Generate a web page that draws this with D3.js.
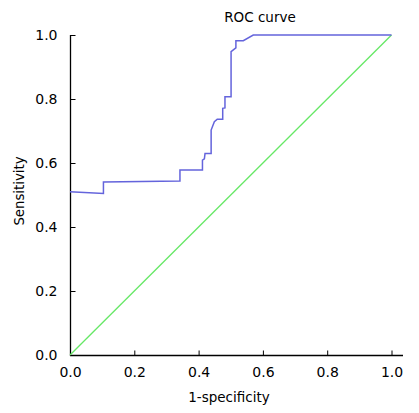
<!DOCTYPE html>
<html><head><meta charset="utf-8">
<script src="https://cdn.jsdelivr.net/npm/d3@7"></script>
<style>body{margin:0;background:#fff;} svg{display:block;}</style>
</head><body>
<svg id="c" width="419" height="413"></svg>
<script>
const fpr = [0, 0.104, 0.104, 0.342, 0.342, 0.412, 0.412, 0.418, 0.420, 0.439, 0.439, 0.449, 0.458, 0.475, 0.475, 0.482, 0.482, 0.501, 0.501, 0.516, 0.516, 0.539, 0.570, 1.0];
const tpr = [0.510, 0.505, 0.541, 0.544, 0.578, 0.578, 0.609, 0.613, 0.630, 0.630, 0.703, 0.729, 0.737, 0.737, 0.771, 0.772, 0.807, 0.807, 0.948, 0.960, 0.982, 0.982, 1.0, 1.0];
const diagX = [0, 1];
const diagY = [0, 1];
const ticks = [0, 0.2, 0.4, 0.6, 0.8, 1.0];
const title = "ROC curve", xLabel = "1-specificity", yLabel = "Sensitivity";

const svg = d3.select("#c");
const font = "DejaVu Sans, sans-serif";
const x = d3.scaleLinear().domain([0, 1]).range([70, 391.5]);
const y = d3.scaleLinear().domain([0, 1]).range([355, 35]);

// axes lines
svg.append("line").attr("x1", 70).attr("x2", 403).attr("y1", 355.5).attr("y2", 355.5).attr("stroke", "#000").attr("stroke-width", 1.3);
svg.append("line").attr("x1", 70.5).attr("x2", 70.5).attr("y1", 35).attr("y2", 356).attr("stroke", "#000").attr("stroke-width", 1.3);

const xa = svg.append("g").attr("transform", "translate(0,355.5)")
  .call(d3.axisBottom(x).tickValues(ticks).tickFormat(d3.format(".1f")).tickSizeInner(-5).tickSizeOuter(0).tickPadding(12));
xa.select(".domain").remove();
xa.selectAll("text").attr("font-family", font).attr("font-size", 14).attr("fill", "#000");
xa.selectAll("line").attr("stroke", "#000");

const ya = svg.append("g").attr("transform", "translate(70.5,0)")
  .call(d3.axisLeft(y).tickValues(ticks).tickFormat(d3.format(".1f")).tickSizeInner(-5).tickSizeOuter(0).tickPadding(13));
ya.select(".domain").remove();
ya.selectAll("text").attr("font-family", font).attr("font-size", 14).attr("fill", "#000");
ya.selectAll("line").attr("stroke", "#000");

// diagonal
svg.append("path")
  .attr("d", d3.line().x((d, i) => x(diagX[i])).y((d, i) => y(diagY[i]))(diagX))
  .attr("fill", "none").attr("stroke", "#66e866").attr("stroke-width", 1.3);

// ROC
svg.append("path")
  .attr("d", d3.line().x((d, i) => x(fpr[i])).y((d, i) => y(tpr[i]))(fpr))
  .attr("fill", "none").attr("stroke", "#6464dc").attr("stroke-width", 1.5);

svg.append("text").attr("x", 260).attr("y", 22).attr("text-anchor", "middle")
  .attr("font-family", font).attr("font-size", 13.5).text(title);
svg.append("text").attr("x", 229).attr("y", 402).attr("text-anchor", "middle")
  .attr("font-family", font).attr("font-size", 13.5).text(xLabel);
svg.append("text").attr("transform", "translate(24,191) rotate(-90)").attr("text-anchor", "middle")
  .attr("font-family", font).attr("font-size", 13.3).text(yLabel);
</script>
</body></html>
